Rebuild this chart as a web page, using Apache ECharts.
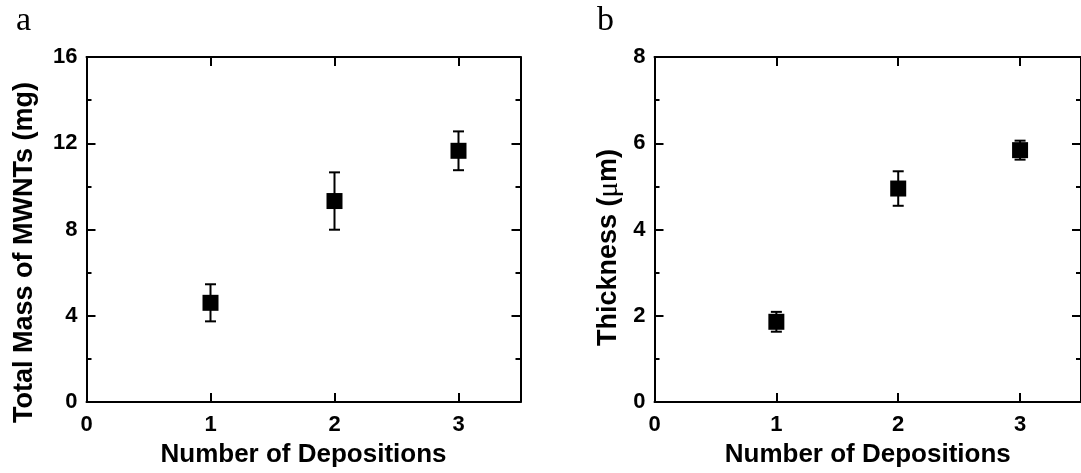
<!DOCTYPE html>
<html>
<head>
<meta charset="utf-8">
<script src="https://cdn.jsdelivr.net/npm/echarts@6/dist/echarts.min.js"></script>
<style>
  html, body { margin: 0; padding: 0; background: #fff; }
  #chart { width: 1081px; height: 473px; }
</style>
</head>
<body>
<div id="chart"></div>
<script>
// Number of depositions (x positions of the points)
const depositions = [1, 2, 3];
// Panel a: total mass of MWNTs (mg), mean and error half-width
const massMean = [4.6, 9.32, 11.65];
const massErr = [0.86, 1.33, 0.9];
// Panel b: film thickness (µm), mean and error half-width
const thickMean = [1.86, 4.95, 5.84];
const thickErr = [0.23, 0.4, 0.22];
// Axis tick settings
const xTicks = { min: 0, max: 3.5, interval: 1 };
const massTicks = { min: 0, max: 16, interval: 4 };
const thickTicks = { min: 0, max: 8, interval: 2 };

const SANS = "'Liberation Sans', Arial, Helvetica, sans-serif";
const SERIF = "'Liberation Serif', 'Times New Roman', serif";
const INK = '#000';

const chart = echarts.init(document.getElementById('chart'), null, { renderer: 'canvas' });

function xAxisPair(gridIndex, nameText) {
  const base = {
    type: 'value', gridIndex,
    min: xTicks.min, max: xTicks.max, interval: xTicks.interval,
    splitLine: { show: false },
    axisLine: { show: true, onZero: false, lineStyle: { color: INK, width: 2 } },
    axisTick: { show: true, inside: true, length: 9, lineStyle: { color: INK, width: 2 } }
  };
  return [
    Object.assign({}, base, {
      position: 'bottom',
      name: nameText, nameLocation: 'middle', nameGap: 40,
      nameTextStyle: { fontFamily: SANS, fontWeight: 'bold', fontSize: 26, color: INK },
      axisLabel: { show: true, showMaxLabel: false, margin: 12, fontFamily: SANS, fontWeight: 'bold', fontSize: 22, color: INK }
    }),
    Object.assign({}, base, { position: 'top', axisLabel: { show: false } })
  ];
}

function yAxisPair(gridIndex, ticks, nameText, gap, shift, rich) {
  const base = {
    type: 'value', gridIndex,
    min: ticks.min, max: ticks.max, interval: ticks.interval,
    splitLine: { show: false },
    axisLine: { show: true, onZero: false, lineStyle: { color: INK, width: 2 } },
    axisTick: { show: true, inside: true, length: 9, lineStyle: { color: INK, width: 2 } },
    minorTick: { show: true, splitNumber: 2, length: 5, lineStyle: { color: INK, width: 2 } },
    minorSplitLine: { show: false }
  };
  return [
    Object.assign({}, base, {
      position: 'left',
      name: nameText, nameLocation: 'middle', nameGap: gap,
      nameTextStyle: {
        fontFamily: SANS, fontWeight: 'bold', fontSize: 27, color: INK,
        padding: [0, shift, 0, 0], rich: rich || {}
      },
      axisLabel: { show: true, margin: 9, fontFamily: SANS, fontWeight: 'bold', fontSize: 22, color: INK }
    }),
    Object.assign({}, base, { position: 'right', axisLabel: { show: false } })
  ];
}

function errorBars(xIndex, yIndex, means, errs) {
  return {
    type: 'custom',
    xAxisIndex: xIndex, yAxisIndex: yIndex,
    data: depositions.map((d, i) => [d, means[i], errs[i]]),
    renderItem: function (params, api) {
      const x = api.value(0), y = api.value(1), e = api.value(2);
      const hi = api.coord([x, y + e]);
      const lo = api.coord([x, y - e]);
      const cap = 5.5;
      const style = { stroke: INK, lineWidth: 2, fill: null };
      return {
        type: 'group',
        children: [
          { type: 'line', shape: { x1: hi[0], y1: hi[1], x2: lo[0], y2: lo[1] }, style },
          { type: 'line', shape: { x1: hi[0] - cap, y1: hi[1], x2: hi[0] + cap, y2: hi[1] }, style },
          { type: 'line', shape: { x1: lo[0] - cap, y1: lo[1], x2: lo[0] + cap, y2: lo[1] }, style }
        ]
      };
    },
    z: 2
  };
}

function points(xIndex, yIndex, means) {
  return {
    type: 'scatter',
    xAxisIndex: xIndex, yAxisIndex: yIndex,
    symbol: 'rect', symbolSize: 16,
    itemStyle: { color: INK, opacity: 1 },
    data: depositions.map((d, i) => [d, means[i]]),
    z: 3
  };
}

const xa = xAxisPair(0, 'Number of Depositions');
const xb = xAxisPair(1, 'Number of Depositions');
const ya = yAxisPair(0, massTicks, 'Total Mass of MWNTs (mg)', 48, 46);
const yb = yAxisPair(1, thickTicks, 'Thickness ({mu|\u03bc}m)', 31, 36, {
  mu: { fontFamily: SERIF, fontWeight: 'normal', fontSize: 29, color: INK }
});

chart.setOption({
  animation: false,
  backgroundColor: '#fff',
  grid: [
    { left: 86.5, top: 57, width: 434, height: 352, containLabel: false },
    { left: 654.5, top: 57, width: 434, height: 352, containLabel: false }
  ],
  xAxis: [xa[0], xa[1], xb[0], xb[1]],
  yAxis: [ya[0], ya[1], yb[0], yb[1]],
  graphic: [
    { type: 'text', left: 16, top: 4, style: { text: 'a', font: '34px ' + SERIF, fill: INK } },
    { type: 'text', left: 597, top: 4, style: { text: 'b', font: '34px ' + SERIF, fill: INK } }
  ],
  series: [
    errorBars(0, 0, massMean, massErr),
    points(0, 0, massMean),
    errorBars(2, 2, thickMean, thickErr),
    points(2, 2, thickMean)
  ]
});
</script>
</body>
</html>
